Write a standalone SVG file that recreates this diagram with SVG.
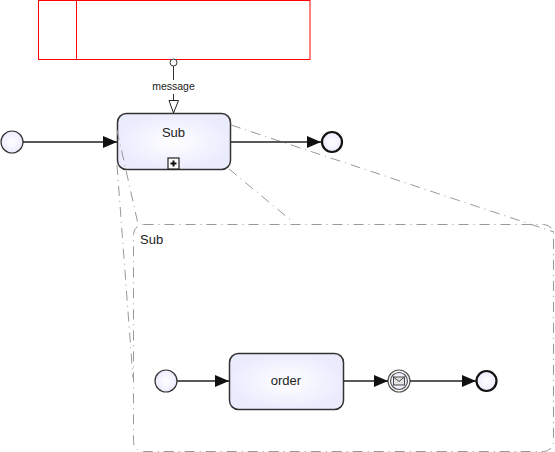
<svg xmlns="http://www.w3.org/2000/svg" width="555" height="452" viewBox="0 0 555 452">
<style>
text{font-family:"Liberation Sans",Arial,sans-serif;fill:#222}
.flow{fill:none;stroke:#222;stroke-width:1.3}
.zoom{fill:none;stroke:#999;stroke-width:1;stroke-dasharray:10 5 1 5}
.ev{fill:url(#g);stroke:#333;stroke-width:1.2}
.end{fill:url(#g);stroke:#111;stroke-width:2.2}
.task{fill:url(#g);stroke:#333;stroke-width:1.5}
</style>
<defs>
<radialGradient id="g"><stop offset="0" stop-color="#fff"/><stop offset="1" stop-color="#ebebfe"/></radialGradient>
<marker id="a" markerUnits="userSpaceOnUse" markerWidth="15" markerHeight="13" refX="14" refY="6" orient="auto"><path d="M0 0L14 6L0 12Z" fill="#111"/></marker>
</defs>
<g id="pool"><rect x="38.500" y="0.500" width="271.500" height="59" fill="#fff" stroke="#f00"/><line x1="76.500" y1="0.500" x2="76.500" y2="59.500" stroke="#f00"/></g>
<g id="start1"><circle class="ev" cx="12" cy="142" r="11"/></g>
<g id="sub"><rect class="task" x="117.500" y="113.500" width="113" height="56" rx="9"/><text x="173.500" y="137" font-size="13" text-anchor="middle">Sub</text><rect x="168" y="158" width="11" height="11" fill="#fff" stroke="#222" stroke-width="1.2"/><path d="M173.500 160.500V166.500M170.500 163.500H176.500" stroke="#111" stroke-width="2"/></g>
<g id="end1"><circle class="end" cx="332" cy="142" r="10"/></g>
<g id="expanded"><rect class="zoom" x="133.500" y="224.500" width="420" height="227" rx="10"/><text x="140" y="244" font-size="13">Sub</text></g>
<g id="start2"><circle class="ev" cx="166" cy="381" r="11"/></g>
<g id="order"><rect class="task" x="229.500" y="353.500" width="114" height="56" rx="9"/><text x="286" y="385" font-size="13" text-anchor="middle">order</text></g>
<g id="msg"><circle cx="399" cy="381" r="11" fill="#fff" stroke="#555" stroke-width="1.2"/><circle cx="399" cy="381" r="8.500" fill="url(#g)" stroke="#555" stroke-width="1.2"/><rect x="393.500" y="377" width="11" height="8" fill="#e4e4e4" stroke="#444"/><path d="M393.500 377L399 381.500L404.500 377" fill="none" stroke="#444"/></g>
<g id="end2"><circle class="end" cx="486.500" cy="381" r="10"/></g>
<g id="connectors">
<path class="zoom" d="M231 125L554 232"/>
<path class="zoom" d="M229 169L293 222"/>
<path class="zoom" d="M117 130L138 224"/>
<path class="zoom" d="M117 165L133 378"/>
<path class="flow" d="M23 142H117" marker-end="url(#a)"/>
<path class="flow" d="M231 142H321" marker-end="url(#a)"/>
<path class="flow" d="M177 381H229" marker-end="url(#a)"/>
<path class="flow" d="M343 381H388" marker-end="url(#a)"/>
<path class="flow" d="M410 381H476" marker-end="url(#a)"/>
<path d="M173.500 66V100" fill="none" stroke="#333"/>
<circle cx="173.500" cy="62.500" r="3.500" fill="#fff" stroke="#333"/>
<path d="M169 100.500L173.500 113L178.500 100.500Z" fill="#fff" stroke="#222"/>
<rect x="150" y="80" width="47" height="14" fill="#fff"/>
<text x="173.500" y="90" font-size="10.500" text-anchor="middle">message</text>
</g>
</svg>
